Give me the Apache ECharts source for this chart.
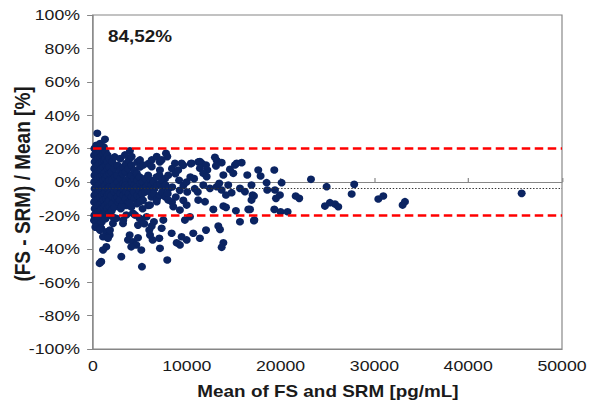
<!DOCTYPE html>
<html>
<head>
<meta charset="utf-8">
<script src="https://cdn.jsdelivr.net/npm/echarts/dist/echarts.min.js"></script>
<style>
  html, body { margin: 0; padding: 0; background: #fff; overflow: hidden; }
  #wrap { width: 600px; height: 406px; overflow: hidden; }
  /* the chart is laid out narrower and widened horizontally */
  #chart { width: 508px; height: 406px; transform: scaleX(1.1811); transform-origin: 0 0; }
</style>
</head>
<body>
<div id="wrap"><div id="chart"></div></div>
<script>
// Relative difference (FS - SRM) / mean [%] against the mean of FS and SRM [pg/mL]

// Low concentrations (< 2000 pg/mL)
const denseLow = [
  [150,20],[120,16],[180,12],[140,8],[160,4],[130,0],[170,-4],[150,-8],[120,-12],[180,-16],[140,-20],[110,-23],
  [360,22],[330,18],[380,13],[340,9],[370,5],[320,1],[360,-3],[390,-7],[330,-11],[350,-15],[370,-19],[340,-24],
  [560,21],[530,17],[580,14],[540,10],[570,6],[520,2],[550,-2],[590,-6],[540,-10],[560,-14],[520,-18],[570,-22],[550,-26],
  [760,23],[740,19],[780,15],[730,11],[770,7],[750,3],[720,-1],[790,-5],[740,-9],[760,-13],[780,-17],[730,-21],[770,-25],
  [960,20],[940,16],[990,12],[920,8],[970,4],[950,0],[930,-4],[980,-8],[950,-12],[920,-16],[970,-20],[940,-24],
  [1160,21],[1130,17],[1180,13],[1140,9],[1170,5],[1120,1],[1150,-3],[1190,-7],[1140,-11],[1160,-15],[1130,-19],
  [1360,18],[1330,14],[1380,10],[1340,6],[1370,2],[1320,-2],[1350,-6],[1390,-10],[1340,-14],[1360,-18],[1330,-22],
  [1560,16],[1530,12],[1580,8],[1540,4],[1570,0],[1520,-4],[1550,-8],[1590,-12],[1540,-16],[1560,-20],
  [1760,14],[1730,9],[1780,5],[1740,1],[1770,-3],[1720,-7],[1750,-11],[1790,-15],[1740,-19],
  [460,29.2],[1280,25.6],[900,21.5],[250,-27],[680,-28]
];

// Main band, 2000 - 11500 pg/mL
const midBand = [
  [2050,12],[1980,6],[2020,1],[2080,-3],[1960,-8],[2040,-13],[2010,-17],
  [2320,15],[2280,8],[2350,3],[2260,-2],[2310,-6],[2370,-10],[2290,-15],
  [2620,10],[2580,4],[2650,0],[2560,-5],[2610,-9],[2670,-12],
  [2920,14],[2870,7],[2950,2],[2880,-3],[2930,-7],[2860,-11],[2960,-16],
  [3220,9],[3180,5],[3250,-1],[3170,-4],[3230,-8],[3190,-13],
  [3520,11],[3480,6],[3550,1],[3470,-2],[3530,-6],[3490,-10],[3560,-14],
  [3820,13],[3780,8],[3850,3],[3770,-3],[3830,-7],[3790,-12],
  [4120,10],[4080,4],[4150,0],[4070,-4],[4130,-9],[4090,-15],
  [4420,7],[4380,2],[4450,-2],[4370,-6],[4430,-10],
  [4720,12],[4680,5],[4750,1],[4670,-3],[4730,-8],[4690,-13],
  [5020,9],[4980,3],[5050,-1],[4970,-5],[5030,-9],
  [5280,0],[5350,-4],[5270,-7],[5330,-11],[5290,-16],
  [5580,2],[5650,-3],[5570,-6],
  [5920,11],[5880,4],[5950,-1],[5870,-5],[5890,-14],
  [6180,1],[6250,-2],[6170,-6],[6230,-9],
  [6480,0],[6550,-4],[6470,-7],
  [6780,3],[6850,-2],[6830,-10],
  [7120,12],[7080,4],[7150,-1],[7130,-8],
  [7380,1],[7450,-3],[7370,-6],
  [7680,2],[7750,-2],[7730,-9],
  [8020,4],[8050,-4],[7970,-7],
  [8420,8],[8450,-3],[8430,-12],
  [8780,5],[8830,-9],
  [9180,1],[9250,-5],
  [9620,10],[9650,-2],[9630,-11],
  [9980,0],[10050,-6],
  [10420,11],[10380,3],
  [10780,2],[10850,-4],
  [11220,12],[11170,-6]
];

// Points above the main band
const upperSpread = [
  [3410,16.2],[3940,18.7],[4120,15.2],[5010,13.2],[6260,13.2],[6790,15.2],[7780,17.2],
  [7920,15.2],[7320,13.2],[5360,10.2],[6260,9.2],[7140,7.2],[8740,11.2],[9450,11.2],
  [9090,7.2],[10520,11.2],[11400,12.2]
];

// Points below the main band
const lowerTail = [
  [880,-27.7],[1420,-29.8],[1780,-31.8],[1070,-32.8],[1600,-33.7],[2130,-24.8],[2490,-21.7],
  [3200,-24.8],[3910,-31.8],[3730,-34.7],[4260,-35.8],[4800,-33.4],[4620,-37.7],[4080,-38.8],
  [5150,-40.7],[1420,-38.8],[1070,-40.7],[3020,-44.7],[880,-47.7],[710,-48.7],[5220,-50.7],
  [4800,-25.8],[4970,-21.7],[3550,-19.8],[4260,-18.7],[750,-28.8],[1810,-28.8],[6080,-31.8],
  [6000,-28.8],[6260,-26.4],[6500,-23.8],[5720,-20.8],[7320,-27.7],[7140,-39.7],[7070,-33.7],
  [6360,-34.7],[7920,-46.7],[8390,-30.7],[8920,-36.4],[9270,-37.7],[9990,-34.7],[9800,-22.8],
  [10340,-20.8],[10690,-30.7],[9450,-32.8],[4480,-19.8],[3230,-22.8],[5190,-22.8],[5470,-25],
  [7500,-22.8],[9270,-16.8],[8560,-14.8],[9990,-13.8],[11220,-10.8],[8030,-10.8],[6790,-11.8],
  [6080,-13.8],[5010,-11.8],[3940,-12.8],[3060,-14.8],[2100,-20.8]
];

// Higher concentrations (> 11000 pg/mL)
const highRange = [
  [11590,11.2],[11400,8.2],[12050,10.2],[13000,14.8],[13190,12.8],[13720,11.6],[13110,9.6],
  [12190,7.2],[11760,5.2],[12120,3.2],[13900,4.2],[14600,7.6],[15140,10.2],[15850,11.6],
  [15320,11.2],[14960,5.2],[16450,4.2],[11760,-1.8],[12470,-3.8],[13190,-2.8],[13460,-0.8],
  [13720,-4.8],[14420,-1.8],[14780,-6.4],[14180,-7.8],[15670,-3.8],[16200,-5.8],[17020,-7.8],
  [11940,-11.8],[12830,-16.4],[13900,-14.4],[14180,-15.2],[15240,-17.2],[16560,-16.4],
  [15670,-23.8],[17160,-23.2],[12050,-28.8],[13360,-26.4],[13540,-28.4],[11400,-33.7],
  [13900,-36.4],[13720,-39.1],
  [17620,7.2],[19330,7.2],[17870,3.6],[18510,-0.4],[20110,-0.4],[16900,-1.8],[18580,-4.8],
  [19400,-4.8],[19930,-7.8],[19510,-9.8],[17160,-8.4],[16900,-10.8],[16740,-16.4],[19330,-16.4],
  [20000,-17.8],[20750,-17.8],[17200,-22.8],[21610,-8.4],[21990,-9.8],[23240,1.6],[24910,-2.8],
  [24730,-14.4],[25260,-12.4],[25800,-13.2],[26150,-14.8],[27580,-7.2],[27850,-1.4],
  [30420,-10.2],[30950,-8.4],[33010,-13.8],[33260,-11.8],[45700,-6.8]
];

// Limits of agreement, mean bias and share of points within the limits
const upperLimit = 20;
const lowerLimit = -20;
const meanBias = -4;
const withinLimits = '84,52%';

// Axis ranges
const xMin = 0, xMax = 50000, xStep = 10000;
const yMin = -100, yMax = 100, yStep = 20;

const allPoints = [].concat(denseLow, midBand, upperSpread, lowerTail, highRange);

const SX = 1.1811;           // horizontal widening of the chart box
const gray = '#868686';
const ink = '#1a1a1a';
const font = '"Liberation Sans", Arial, sans-serif';

const chart = echarts.init(document.getElementById('chart'), null, { renderer: 'svg' });

chart.setOption({
  animation: false,
  backgroundColor: '#ffffff',
  grid: {
    left: 93 / SX, right: 38 / SX, top: 15, bottom: 57,
    show: true, borderColor: gray, borderWidth: 1, backgroundColor: 'transparent'
  },
  xAxis: [
    {
      type: 'value', min: xMin, max: xMax, interval: xStep, position: 'bottom',
      axisLine: { onZero: false, lineStyle: { color: gray, width: 1 } },
      axisTick: { show: false },
      splitLine: { show: false },
      axisLabel: {
        margin: 9, color: ink, fontSize: 15, fontFamily: font,
        formatter: v => String(v)
      }
    },
    {
      type: 'value', min: xMin, max: xMax, interval: xStep, position: 'bottom',
      axisLine: { onZero: true, lineStyle: { color: gray, width: 1 } },
      axisTick: { show: true, inside: true, length: 4, lineStyle: { color: gray } },
      splitLine: { show: false },
      axisLabel: { show: false }
    }
  ],
  yAxis: {
    type: 'value', min: yMin, max: yMax, interval: yStep,
    axisLine: { show: true, lineStyle: { color: gray, width: 1 } },
    axisTick: { show: true, length: 5, lineStyle: { color: gray } },
    splitLine: { show: false },
    axisLabel: { margin: 11, color: ink, fontSize: 15, fontFamily: font, formatter: '{value}%' }
  },
  series: [
    {
      type: 'scatter',
      xAxisIndex: 0,
      data: allPoints,
      symbol: 'circle',
      symbolSize: [6.8, 7.6],
      itemStyle: { color: '#0b2462', opacity: 1 },
      silent: true,
      markLine: {
        silent: true,
        symbol: 'none',
        label: { show: false },
        data: [
          { yAxis: upperLimit, lineStyle: { color: '#ff0000', width: 2.5, type: [7.2, 3.8] } },
          { yAxis: lowerLimit, lineStyle: { color: '#ff0000', width: 2.5, type: [7.2, 3.8] } },
          { yAxis: meanBias, lineStyle: { color: '#333333', width: 1, type: [1.2, 1.5] } }
        ]
      }
    }
  ],
  graphic: [
    {
      type: 'text', x: 108 / SX, y: 37,
      style: { text: withinLimits, font: 'bold 16px ' + font, fill: ink, verticalAlign: 'middle', align: 'left' }
    },
    {
      type: 'text', x: 328 / SX, y: 392,
      style: { text: 'Mean of FS and SRM [pg/mL]', font: 'bold 16px ' + font, fill: ink, align: 'center', verticalAlign: 'middle' }
    },
    {
      type: 'text', x: 22 / SX, y: 184, rotation: Math.PI / 2,
      style: { text: '(FS - SRM) / Mean [%]', font: 'bold 19px ' + font, fill: ink, align: 'center', verticalAlign: 'middle' }
    }
  ]
});
</script>
</body>
</html>
